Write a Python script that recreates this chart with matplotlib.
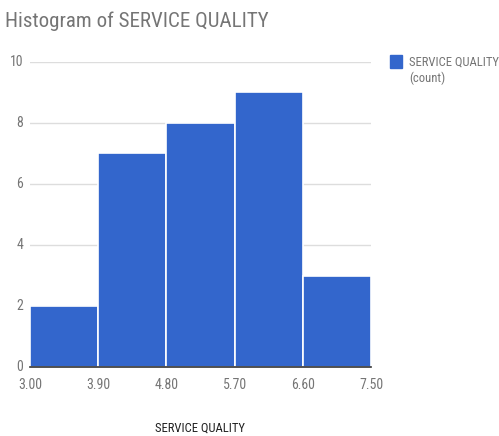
import matplotlib
matplotlib.use("Agg")
import matplotlib.pyplot as plt
from matplotlib import font_manager
import numpy as np

bin_edges = [3.00, 3.90, 4.80, 5.70, 6.60, 7.50]
counts = [2, 7, 8, 9, 3]
x_tick_labels = ["3.00", "3.90", "4.80", "5.70", "6.60", "7.50"]
y_ticks = [0, 2, 4, 6, 8, 10]
title = "Histogram of SERVICE QUALITY"
x_label = "SERVICE QUALITY"
legend_label = "SERVICE QUALITY\n(count)"

names = {f.name for f in font_manager.fontManager.ttflist}
fam = "Roboto"
for cand in ["Roboto Condensed", "Liberation Sans Narrow", "Open Sans Condensed"]:
    if cand in names:
        fam = cand
        break
plt.rcParams['font.family'] = [fam, 'DejaVu Sans']

W, H = 499, 436
fig = plt.figure(figsize=(W / 100, H / 100), dpi=100)
renderer = fig.canvas.get_renderer()


def fit_size(text, target_px, base=12.0):
    t = fig.text(0, 0, text, fontsize=base)
    w = t.get_window_extent(renderer=renderer).width
    t.remove()
    return base * target_px / w


title_fs = fit_size(title, 263)
tick_fs = fit_size("3.00", 24)
label_fs = fit_size("SERVICE QUALITY", 90)

ax = fig.add_axes([30 / W, 1 - 367 / H, (371 - 30) / W, (367 - 62) / H])

bar_color = "#3366cc"
edges = np.array(bin_edges)
ax.bar(edges[:-1], counts, width=np.diff(edges), align="edge",
       color=bar_color, edgecolor="white", linewidth=1.2, zorder=3)

ax.set_xlim(bin_edges[0], bin_edges[-1])
ax.set_ylim(0, 10)
ax.set_xticks(bin_edges)
ax.set_xticklabels(x_tick_labels)
ax.set_yticks(y_ticks)
ax.set_yticklabels([str(v) for v in y_ticks])
ax.tick_params(axis="both", length=0, labelsize=tick_fs, colors="#757575")
ax.tick_params(axis="x", pad=8)
ax.tick_params(axis="y", pad=5)
for lbl in ax.get_yticklabels():
    lbl.set_verticalalignment("center")
ax.grid(axis="y", color="#dddddd", linewidth=1, zorder=0)
for s in ["top", "right", "left"]:
    ax.spines[s].set_visible(False)
ax.spines["bottom"].set_color("#333333")
ax.spines["bottom"].set_linewidth(1.2)
ax.spines["bottom"].set_zorder(4)

fig.text(5 / W, 1 - 21 / H, title, fontsize=title_fs, color="#757575", ha="left", va="center")
fig.text(200 / W, 1 - 428 / H, x_label, fontsize=label_fs, color="#222222", ha="center", va="center")

fig.patches.append(plt.Rectangle((390 / W, 1 - 68 / H), 12 / W, 13 / H,
                                 transform=fig.transFigure, color=bar_color))
fig.text(409 / W, 1 - 62 / H, "SERVICE QUALITY", fontsize=label_fs, color="#757575",
         ha="left", va="center")
fig.text(409 / W, 1 - 78 / H, "(count)", fontsize=label_fs, color="#757575",
         ha="left", va="center")

fig.savefig("out.png", dpi=100)
